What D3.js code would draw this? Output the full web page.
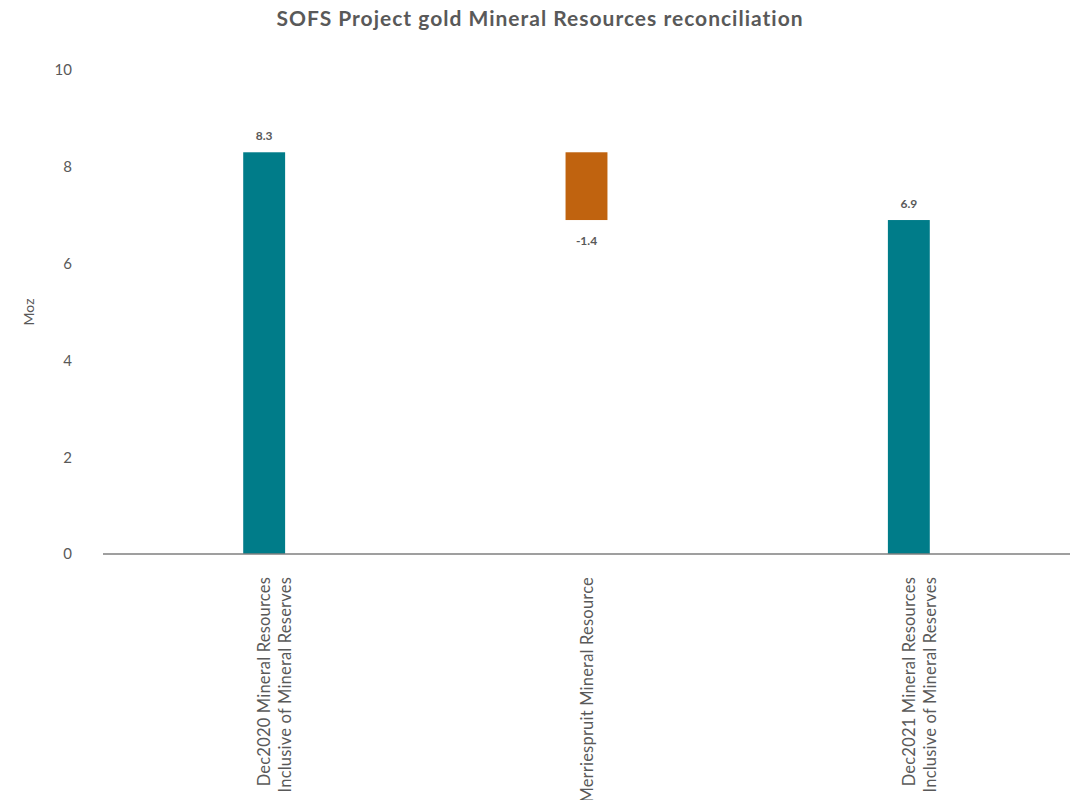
<!DOCTYPE html>
<html>
<head>
<meta charset="utf-8">
<script src="https://cdn.jsdelivr.net/npm/d3@7"></script>
<style>
  html, body { margin: 0; padding: 0; background: #fff; }
  svg { display: block; }
  text { font-family: "Century Gothic", "URW Gothic", Lato, "DejaVu Sans", sans-serif; }
</style>
</head>
<body>
<svg id="chart" width="1080" height="800"></svg>
<script>
const categories = [
  ["Dec2020 Mineral Resources", "Inclusive of Mineral Reserves"],
  ["Merriespruit Mineral Resource"],
  ["Dec2021 Mineral Resources", "Inclusive of Mineral Reserves"]
];
const values = [8.3, -1.4, 6.9];
const kinds = ["total", "delta", "total"];
const labels = ["8.3", "-1.4", "6.9"];
const yTicks = [0, 2, 4, 6, 8, 10];

const W = 1080, H = 800;
const margin = { top: 70, right: 10, bottom: 246, left: 103 };
const svg = d3.select("#chart");

const x = d3.scaleBand()
  .domain(d3.range(categories.length))
  .range([margin.left, W - margin.right])
  .paddingInner(0.87).paddingOuter(0.435);
const y = d3.scaleLinear().domain([0, 10]).range([H - margin.bottom, margin.top]);

// build waterfall segments
let running = 0;
const segs = values.map((v, i) => {
  let lo, hi;
  if (kinds[i] === "total") { lo = 0; hi = v; running = v; }
  else { const s = running; running = s + v; lo = Math.min(s, running); hi = Math.max(s, running); }
  return { i, v, lo, hi, kind: kinds[i], label: labels[i] };
});

// title
svg.append("text")
  .attr("x", W / 2).attr("y", 26)
  .attr("text-anchor", "middle")
  .attr("font-size", 21).attr("font-weight", "bold")
  .attr("letter-spacing", 1)
  .attr("fill", "#595959")
  .text("SOFS Project gold Mineral Resources reconciliation");

// y axis ticks (no line)
const yAxis = d3.axisLeft(y).tickValues(yTicks).tickSize(0).tickPadding(0).tickFormat(d3.format("d"));
const yg = svg.append("g").attr("transform", `translate(${margin.left - 31},0)`).call(yAxis);
yg.select(".domain").remove();
yg.selectAll("text").attr("font-size", 15).attr("fill", "#595959")
  .attr("font-family", '"Century Gothic", "URW Gothic", Lato, "DejaVu Sans", sans-serif');

// y title
svg.append("text")
  .attr("transform", `translate(34,${(y(0) + y(10)) / 2}) rotate(-90)`)
  .attr("text-anchor", "middle")
  .attr("font-size", 14).attr("fill", "#595959")
  .text("Moz");

// bars
svg.append("g").selectAll("rect").data(segs).join("rect")
  .attr("x", d => x(d.i))
  .attr("width", x.bandwidth())
  .attr("y", d => y(d.hi))
  .attr("height", d => y(d.lo) - y(d.hi))
  .attr("fill", d => d.kind === "total" ? "#007C89" : "#C0630F");

// value labels
svg.append("g").selectAll("text").data(segs).join("text")
  .attr("x", d => x(d.i) + x.bandwidth() / 2)
  .attr("y", d => d.v < 0 ? y(d.lo) + 25 : y(d.hi) - 12)
  .attr("text-anchor", "middle")
  .attr("font-size", 12).attr("font-weight", "bold")
  .attr("fill", "#595959")
  .text(d => d.label);

// x axis line
svg.append("line")
  .attr("x1", margin.left).attr("x2", W - margin.right)
  .attr("y1", y(0)).attr("y2", y(0))
  .attr("stroke", "#7f7f7f").attr("stroke-width", 1.5);

// category labels
const cg = svg.append("g");
categories.forEach((lines, i) => {
  const cx = x(i) + x.bandwidth() / 2;
  lines.forEach((ln, j) => {
    cg.append("text")
      .attr("transform", `translate(${cx + 6 + j * 21},${y(0) + 23}) rotate(-90)`)
      .attr("text-anchor", "end")
      .attr("font-size", 16.5).attr("letter-spacing", 0.2).attr("fill", "#595959")
      .text(ln);
  });
});
</script>
</body>
</html>
